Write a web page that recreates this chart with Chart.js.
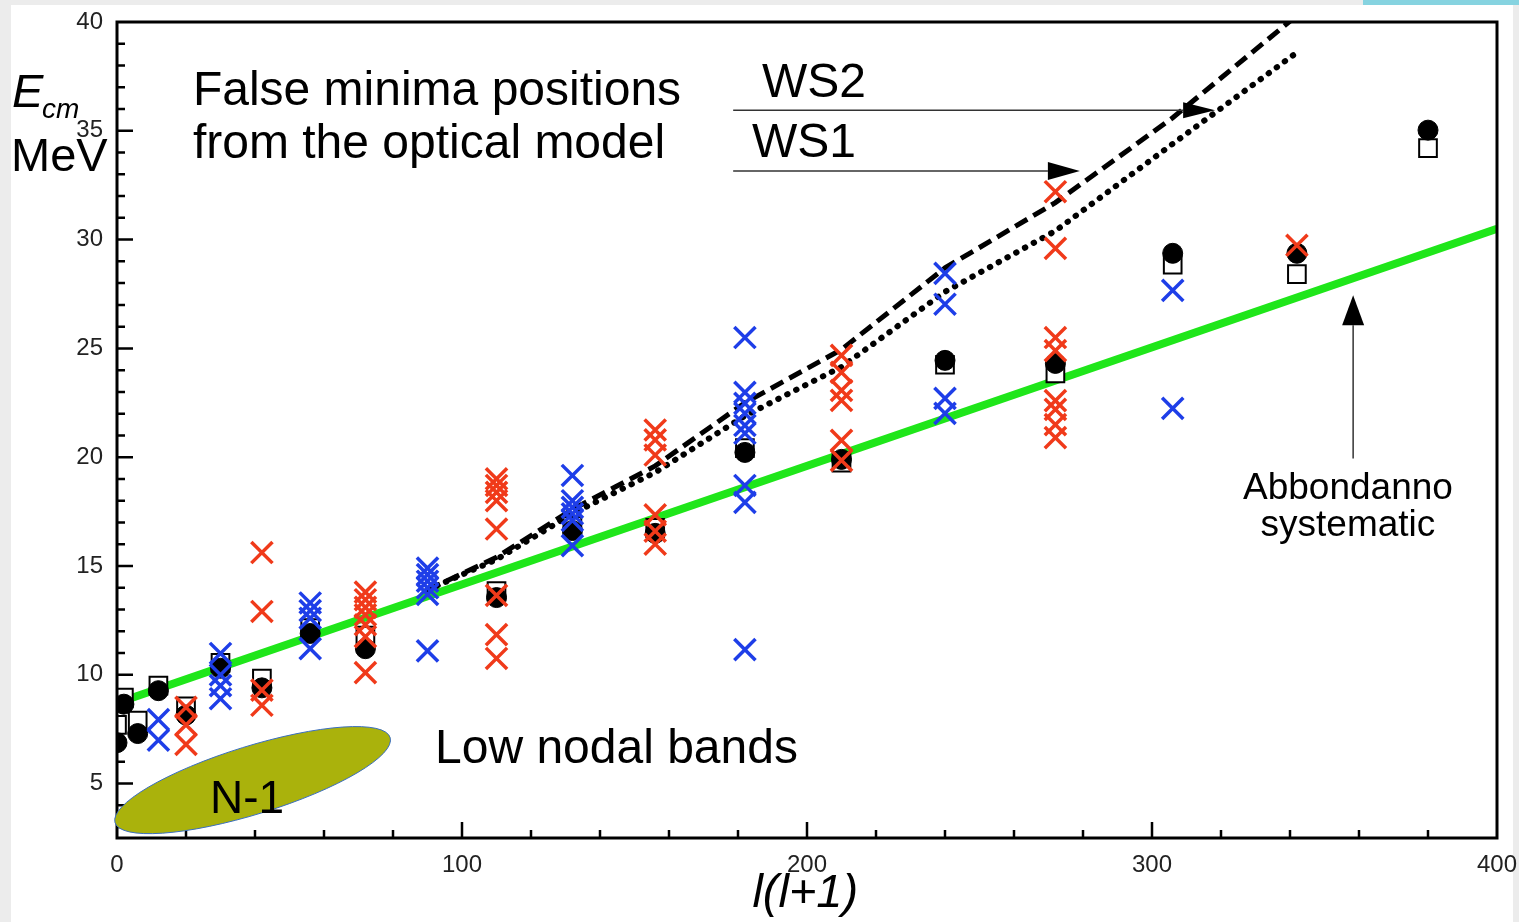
<!DOCTYPE html>
<html>
<head>
<meta charset="utf-8">
<script src="https://cdn.jsdelivr.net/npm/chart.js@4.4.1/dist/chart.umd.min.js"></script>
<style>
  html, body { margin: 0; padding: 0; background: #ececec; overflow: hidden; }
  #panel { position: absolute; left: 11px; top: 5px; width: 1502px; height: 917px; background: #fff; }
  #tab { position: absolute; left: 1363px; top: 0; width: 156px; height: 5px; background: #86d3e0; }
  #chartCanvas { position: absolute; left: 0; top: 0; }
</style>
</head>
<body>
<div id="panel"></div>
<div id="tab"></div>
<canvas id="chartCanvas" width="1519" height="922"></canvas>
<script>
// ============================================
// DATA
// ============================================

// l(l+1) positions of the partial waves
const lValues = [0, 2, 6, 12, 20, 30, 42, 56, 72, 90, 110, 132, 156, 182, 210, 240, 272, 306, 342, 380];

// filled black circles and open squares (one per l, null = none)
const circleE = [6.88, 8.65, 7.30, 9.27, 8.15, 10.3, 9.4, 11.9, 11.2, null, 13.55, 16.63, 16.5, 20.22, 19.9, 24.45, 24.31, 29.37, 29.37, 35.03];
const squareE = [7.7, 8.95, 7.9, 9.5, 8.55, 10.55, 9.83, 12.15, 11.8, null, 13.85, 16.85, 16.75, 20.42, 19.75, 24.25, 23.85, 28.85, 28.41, 34.2];

// crosses, grouped by l
const redCrossE = [[], [], [], [], [8.5, 7.7, 6.8], [], [15.62, 12.91, 9.3, 8.6], [],
  [13.8, 13.45, 13.1, 12.75, 12.3, 11.75, 10.1], [],
  [19.0, 18.7, 18.38, 18.0, 16.7, 13.65, 11.85, 10.75], [],
  [21.25, 20.8, 20.1, 17.35, 16.6, 16.0], [],
  [24.68, 23.9, 23.07, 22.61, 20.77, 19.85], [],
  [32.2, 29.6, 25.5, 24.9, 22.6, 22.2, 21.5, 20.9], [], [29.74], []];
const blueCrossE = [[], [], [], [7.94, 7.0], [], [10.98, 10.0, 9.5, 8.9], [],
  [13.3, 12.95, 12.6, 11.2], [], [14.9, 14.6, 14.3, 14.0, 13.7, 11.1], [],
  [19.16, 18.0, 17.69, 17.4, 17.1, 15.94], [],
  [25.5, 22.98, 22.47, 22.01, 21.46, 21.1, 18.7, 17.92, 11.16], [],
  [28.45, 27.03, 22.7, 22.01], [], [27.67, 22.24], [], []];

// optical model false minima (WS2 dashed, WS1 dotted)
const wsL = [90, 110, 132, 156, 182, 210, 240, 272, 306, 342];
const ws2E = [13.9, 15.4, 17.6, 19.6, 22.5, 24.95, 28.7, 31.7, 35.6, 40.3];
const ws1E = [13.9, 15.3, 17.4, 19.3, 21.9, 24.15, 27.6, 30.4, 34.4, 38.6];

// Abbondanno systematic
const abbL = [0, 400];
const abbE = [8.7, 30.5];

// axis ticks
const xTickLabels = [0, 100, 200, 300, 400];
const yTickLabels = [5, 10, 15, 20, 25, 30, 35, 40];

// ============================================
// HELPERS
// ============================================

function pointsFrom(xs, ys) {
    const pts = [];
    for (let i = 0; i < xs.length; i++) {
        if (ys[i] !== null) pts.push({ x: xs[i], y: ys[i] });
    }
    return pts;
}

function crossPoints(groups) {
    const pts = [];
    groups.forEach(function(g, i) {
        g.forEach(function(e) { pts.push({ x: lValues[i], y: e }); });
    });
    return pts;
}

// keep the plot frame where the reference has it
function noLabelPadding(scale) {
    scale.paddingTop = 0;
    scale.paddingBottom = 0;
    scale.paddingLeft = 0;
    scale.paddingRight = 0;
}

const FONT = "'Liberation Sans', Arial, Helvetica, sans-serif";

function arrow(ctx, x1, y1, x2, y2, headLen, headHalf) {
    const ang = Math.atan2(y2 - y1, x2 - x1);
    const bx = x2 - headLen * Math.cos(ang);
    const by = y2 - headLen * Math.sin(ang);
    ctx.beginPath();
    ctx.moveTo(x1, y1);
    ctx.lineTo(bx, by);
    ctx.strokeStyle = '#333';
    ctx.lineWidth = 1.5;
    ctx.stroke();
    ctx.beginPath();
    ctx.moveTo(x2, y2);
    ctx.lineTo(bx + headHalf * Math.sin(ang), by - headHalf * Math.cos(ang));
    ctx.lineTo(bx - headHalf * Math.sin(ang), by + headHalf * Math.cos(ang));
    ctx.closePath();
    ctx.fillStyle = '#000';
    ctx.fill();
}

// frame, inward ticks, ellipse and annotations
const annotPlugin = {
    id: 'annot',
    beforeDatasetsDraw(chart) {
        const ctx = chart.ctx;
        const a = chart.chartArea;
        const xs = chart.scales.x, ys = chart.scales.y;
        ctx.save();
        ctx.strokeStyle = '#000';
        ctx.lineWidth = 2.5;
        ctx.beginPath();
        for (let v = 20; v < 400; v += 20) {
            const px = xs.getPixelForValue(v);
            const len = (v % 100 === 0) ? 16 : 8;
            ctx.moveTo(px, a.bottom);
            ctx.lineTo(px, a.bottom - len);
        }
        for (let v = 3; v < 40; v += 1) {
            const py = ys.getPixelForValue(v);
            const len = (v % 5 === 0) ? 16 : 8;
            ctx.moveTo(a.left, py);
            ctx.lineTo(a.left + len, py);
        }
        ctx.stroke();
        ctx.restore();
    },
    afterDatasetsDraw(chart) {
        const ctx = chart.ctx;
        const a = chart.chartArea;
        const xs = chart.scales.x, ys = chart.scales.y;
        const X = function(v) { return xs.getPixelForValue(v); };
        const Y = function(v) { return ys.getPixelForValue(v); };
        ctx.save();

        // frame
        ctx.strokeStyle = '#000';
        ctx.lineWidth = 3;
        ctx.strokeRect(a.left, a.top, a.right - a.left, a.bottom - a.top);

        // N-1 ellipse
        ctx.beginPath();
        ctx.ellipse(X(39.3), Y(5.16), 144, 34, -17.2 * Math.PI / 180, 0, 2 * Math.PI);
        ctx.fillStyle = '#aab20c';
        ctx.fill();
        ctx.strokeStyle = '#3a6ec0';
        ctx.lineWidth = 1;
        ctx.stroke();

        // arrows
        arrow(ctx, X(178.6), Y(35.95), X(318.3), Y(35.95), 32, 8);
        arrow(ctx, X(178.6), Y(33.15), X(279.1), Y(33.15), 32, 9);
        arrow(ctx, X(358.3), Y(19.94), X(358.3), Y(27.44), 30, 11);

        // texts
        ctx.fillStyle = '#000';
        ctx.textBaseline = 'alphabetic';
        ctx.textAlign = 'left';
        ctx.font = '48px ' + FONT;
        ctx.fillText('False minima positions', X(22.0), Y(36.18));
        ctx.fillText('from the optical model', X(22.0), Y(33.74));
        ctx.fillText('WS2', X(186.96), Y(36.55));
        ctx.fillText('WS1', X(184.06), Y(33.79));
        ctx.fillText('Low nodal bands', X(92.17), Y(5.96));
        ctx.font = '46px ' + FONT;
        ctx.fillText('N-1', X(26.96), Y(3.66));
        ctx.textAlign = 'center';
        ctx.font = '37px ' + FONT;
        ctx.fillText('Abbondanno', X(356.8), Y(18.06));
        ctx.fillText('systematic', X(356.8), Y(16.36));

        // axis titles
        ctx.textAlign = 'left';
        ctx.font = 'italic 47px ' + FONT;
        ctx.fillText('E', 12, 107);
        ctx.font = 'italic 28px ' + FONT;
        ctx.fillText('cm', 42, 118);
        ctx.font = '47px ' + FONT;
        ctx.fillText('MeV', 11, 171);
        ctx.textAlign = 'center';
        ctx.font = 'italic 47px ' + FONT;
        ctx.fillText('l(l+1)', X(199.5), 907);
        ctx.restore();
    }
};

// ============================================
// CHART
// ============================================

const RED = '#f03a1a';
const BLUE = '#1e3ee8';

const canvas = document.getElementById('chartCanvas');
const ctx = canvas.getContext('2d');

const myChart = new Chart(ctx, {
    type: 'scatter',
    data: {
        datasets: [
            {
                label: 'blue crosses',
                data: crossPoints(blueCrossE),
                pointStyle: 'crossRot',
                pointRadius: 15,
                borderColor: BLUE,
                pointBorderWidth: 3.5,
                order: 1
            },
            {
                label: 'red crosses',
                data: crossPoints(redCrossE),
                pointStyle: 'crossRot',
                pointRadius: 15,
                borderColor: RED,
                pointBorderWidth: 3.5,
                order: 2
            },
            {
                label: 'circles',
                data: pointsFrom(lValues, circleE),
                pointStyle: 'circle',
                pointRadius: 10,
                backgroundColor: '#000',
                borderColor: '#000',
                pointBorderWidth: 1,
                order: 3
            },
            {
                label: 'squares',
                data: pointsFrom(lValues, squareE),
                pointStyle: 'rect',
                pointRadius: 12.5,
                backgroundColor: '#fff',
                borderColor: '#000',
                pointBorderWidth: 2,
                order: 4
            },
            {
                label: 'WS2',
                data: pointsFrom(wsL, ws2E),
                showLine: true,
                pointRadius: 0,
                borderColor: '#000',
                borderWidth: 5,
                borderDash: [14, 7],
                tension: 0,
                order: 5
            },
            {
                label: 'WS1',
                data: pointsFrom(wsL, ws1E),
                showLine: true,
                pointRadius: 0,
                borderColor: '#000',
                borderWidth: 6,
                borderDash: [0.5, 9.5],
                borderCapStyle: 'round',
                tension: 0,
                order: 6
            },
            {
                label: 'Abbondanno systematic',
                data: pointsFrom(abbL, abbE),
                showLine: true,
                pointRadius: 0,
                borderColor: '#1fe61a',
                borderWidth: 8,
                tension: 0,
                order: 7
            }
        ]
    },
    options: {
        responsive: false,
        animation: false,
        layout: { padding: { top: 22, right: 22, left: 0, bottom: 0 } },
        plugins: {
            legend: { display: false },
            tooltip: { enabled: false }
        },
        scales: {
            x: {
                type: 'linear',
                min: 0,
                max: 400,
                grid: { display: false, drawTicks: false },
                border: { display: false },
                afterBuildTicks: function(scale) {
                    scale.ticks = xTickLabels.map(function(v) { return { value: v }; });
                },
                afterFit: function(scale) {
                    scale.height = 84;
                    noLabelPadding(scale);
                },
                ticks: {
                    padding: 13,
                    maxRotation: 0,
                    autoSkip: false,
                    color: '#222',
                    font: { family: FONT, size: 24 }
                }
            },
            y: {
                type: 'linear',
                min: 2.5,
                max: 40,
                grid: { display: false, drawTicks: false },
                border: { display: false },
                afterBuildTicks: function(scale) {
                    scale.ticks = yTickLabels.map(function(v) { return { value: v }; });
                },
                afterFit: function(scale) {
                    scale.width = 117;
                    noLabelPadding(scale);
                },
                ticks: {
                    padding: 14,
                    autoSkip: false,
                    color: '#222',
                    font: { family: FONT, size: 24 }
                }
            }
        }
    },
    plugins: [annotPlugin]
});
</script>
</body>
</html>
